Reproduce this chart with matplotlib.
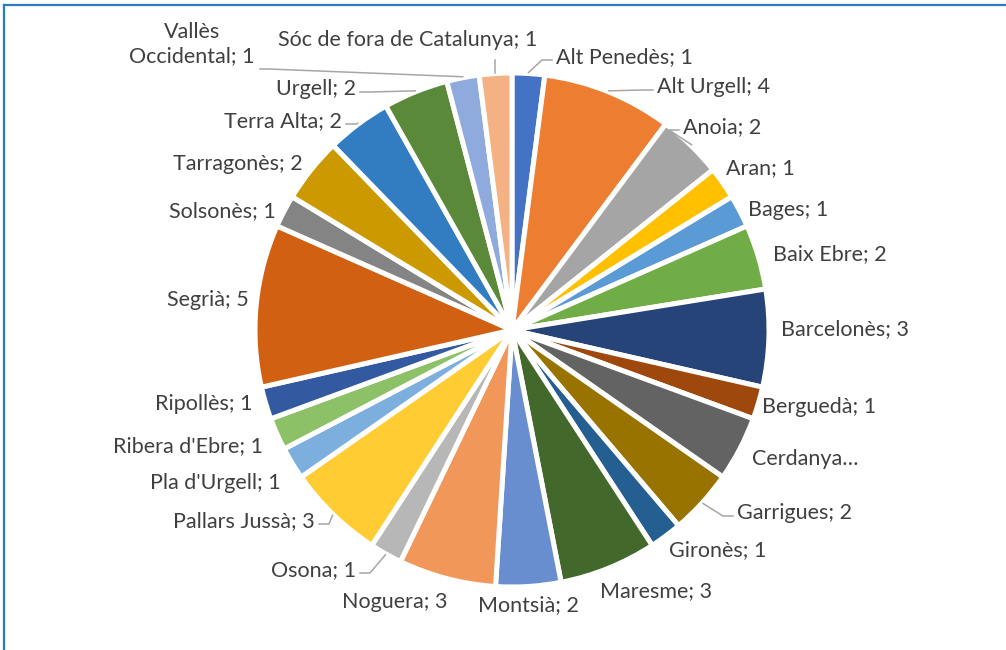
import matplotlib
matplotlib.use("Agg")
import matplotlib.pyplot as plt
import numpy as np

# Dades
comarques = ["Alt Penedès", "Alt Urgell", "Anoia", "Aran", "Bages", "Baix Ebre",
             "Barcelonès", "Berguedà", "Cerdanya", "Garrigues", "Gironès", "Maresme",
             "Montsià", "Noguera", "Osona", "Pallars Jussà", "Pla d'Urgell",
             "Ribera d'Ebre", "Ripollès", "Segrià", "Solsonès", "Tarragonès",
             "Terra Alta", "Urgell", "Vallès Occidental", "Sóc de fora de Catalunya"]
valors = [1, 4, 2, 1, 1, 2, 3, 1, 2, 2, 1, 3, 2, 3, 1, 3, 1, 1, 1, 5, 1, 2, 2, 2, 1, 1]

# Colors (paleta Office)
colors = ["#4472C4", "#ED7D31", "#A5A5A5", "#FFC000", "#5B9BD5", "#70AD47",
          "#264478", "#9E480E", "#636363", "#997300", "#255E91", "#43682B",
          "#698ED0", "#F1975A", "#B7B7B7", "#FFCD33", "#7CAFDD", "#8CC168",
          "#335AA1", "#D26012", "#848484", "#CC9A00", "#327DC2", "#5A8A39",
          "#8FAADC", "#F4B183"]

# Posicio de les etiquetes (pixels, des de dalt a l'esquerra) i alineacio
label_xy = [(556, 57), (657, 87), (683, 127), (726, 168), (748, 210), (773, 254),
            (781, 329), (762, 407), (752, 459), (737, 513), (669, 550), (600, 591),
            (528, 605), (448, 602), (356, 570), (315, 521), (281, 483),
            (263, 446), (253, 404), (249, 300), (276, 211), (303, 164),
            (342, 121), (356, 89), (255, 44), (408, 40)]
label_ha = ["left"] * 12 + ["center"] + ["right"] * 12 + ["center"]
leader = ["Alt Penedès", "Alt Urgell", "Anoia", "Garrigues", "Osona", "Pallars Jussà",
          "Terra Alta", "Urgell", "Vallès Occidental", "Sóc de fora de Catalunya"]

W, H = 1006, 650
cx, cy, R = 512, 330, 257

plt.rcParams['font.family'] = ['Lato', 'DejaVu Sans']
fig = plt.figure(figsize=(W / 100, H / 100), dpi=100)
ax = fig.add_axes([0, 0, 1, 1])

ax.pie(valors, colors=colors, startangle=90, counterclock=False,
       center=(cx, H - cy), radius=R,
       wedgeprops=dict(edgecolor="white", linewidth=3.6))
ax.set_aspect("auto")
ax.set_xlim(0, W)
ax.set_ylim(0, H)
ax.axis("off")

total = sum(valors)
cum = np.cumsum([0] + valors)
txtcol = "#404040"
for i, nom in enumerate(comarques):
    mid = np.deg2rad((cum[i] + valors[i] / 2) / total * 360)
    lx, ly = label_xy[i]
    if nom == "Vallès Occidental":
        txt = "Vallès\nOccidental; " + str(valors[i])
    elif nom == "Cerdanya":
        txt = "Cerdanya…"
    else:
        txt = nom + "; " + str(valors[i])
    ax.text(lx, H - ly, txt, ha=label_ha[i], va="center", fontsize=15.5,
            color=txtcol, multialignment="center", linespacing=1.3)
    if nom in leader:
        px = cx + (R + 1) * np.sin(mid)
        py = cy - (R + 1) * np.cos(mid)
        if nom == "Sóc de fora de Catalunya":
            xs = [px, px]
            ys = [py, ly + 20]
        elif nom == "Vallès Occidental":
            xs = [px, lx + 14, lx + 5]
            ys = [py, ly + 25, ly + 25]
        else:
            s = 1 if label_ha[i] == "left" else -1
            ex = lx - 4 * s
            ey = ly + 3
            xs = [px, ex - 10 * s, ex]
            ys = [py, ey, ey]
        ax.plot(xs, [H - y for y in ys], color="#A6A6A6", lw=1.1)

# Marc del grafic
fig.add_artist(plt.Line2D([4 / W, 4 / W], [0, (H - 5) / H], color="#2A7AC4", lw=1.6))
fig.add_artist(plt.Line2D([4 / W, 1], [(H - 5) / H, (H - 5) / H], color="#2A7AC4", lw=1.6))

fig.savefig("out.png", dpi=100)
